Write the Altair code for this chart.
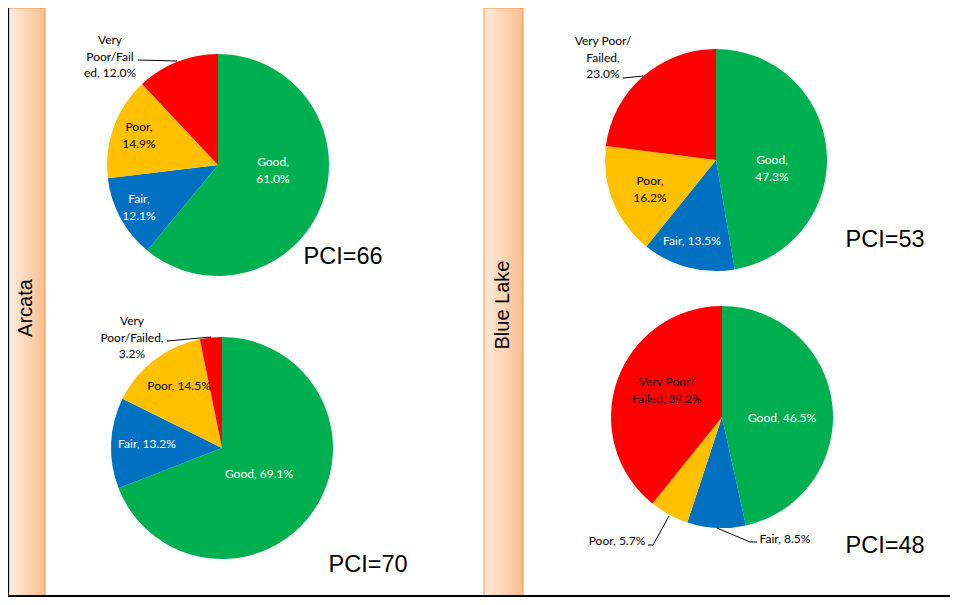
import altair as alt
import pandas as pd

# ---------------- data ----------------
CATEGORIES = ["Good", "Fair", "Poor", "Very Poor/Failed"]
COLORS = ["#00B050", "#0070C0", "#FFC000", "#FF0000"]
ARCATA_TOP = [61.0, 12.1, 14.9, 12.0]
ARCATA_BOTTOM = [69.1, 13.2, 14.5, 3.2]
BLUE_LAKE_TOP = [47.3, 13.5, 16.2, 23.0]
BLUE_LAKE_BOTTOM = [46.5, 8.5, 5.7, 39.2]
PCI = [66, 70, 53, 48]
CITIES = ["Arcata", "Blue Lake"]

# ---------------- layout ----------------
W, H = 942, 589
R = 111
FONT_LBL = "Lato"
FONT_BIG = "Liberation Sans"

# label line-wrapping templates (per pie, per category)
WRAPS = [
    ["Good,|{v}", "Fair,|{v}", "Poor,|{v}", "Very|Poor/Fail|ed, {v}"],
    ["Good, {v}", "Fair, {v}", "Poor, {v}", "Very|Poor/Failed,|{v}"],
    ["Good,|{v}", "Fair, {v}", "Poor,|{v}", "Very Poor/|Failed,|{v}"],
    ["Good, {v}", "Fair, {v}", "Poor, {v}", "Very Poor/|Failed, {v}"],
]

# label positions = centre of first text line
PIES = [
    dict(values=ARCATA_TOP, center=(210, 157), pci_pos=(335, 249),
         labels=[(265, 154), (131, 191), (131, 119), (102, 32)],
         lcolors=["white", "white", "black", "black"]),
    dict(values=ARCATA_BOTTOM, center=(214, 440), pci_pos=(360, 557),
         labels=[(251, 466), (139, 436), (171, 378), (124, 313)],
         lcolors=["white", "white", "black", "black"]),
    dict(values=BLUE_LAKE_TOP, center=(708, 152), pci_pos=(877, 232),
         labels=[(764, 152), (684, 233), (642, 173), (595, 33)],
         lcolors=["white", "white", "black", "black"]),
    dict(values=BLUE_LAKE_BOTTOM, center=(714, 409), pci_pos=(877, 538),
         labels=[(774, 410), (777, 531), (609, 533), (659, 374)],
         lcolors=["white", "black", "black", "black"]),
]

LEADERS = [
    (130, 52, 169, 53),
    (159, 333, 203, 329),
    (615, 70, 635, 68),
    (640, 537, 645, 537), (645, 537, 661, 508),
    (709, 520, 742, 534), (742, 534, 749, 534),
]

BARS = [(1, 37, 18, 300), (476, 515, 495, 297)]  # x, x2, text x, text y

color_scale = alt.Scale(domain=CATEGORIES, range=COLORS)
layers = []

# side bars with gradient
grad = alt.Gradient(
    gradient="linear",
    stops=[alt.GradientStop(color="#FFEBDD", offset=0),
           alt.GradientStop(color="#FBBE8C", offset=1)],
    x1=0, x2=1, y1=0, y2=0,
)
city_df = pd.DataFrame({"city": CITIES})
for city, (bx, bx2, tx, ty) in zip(CITIES, BARS):
    base = alt.Chart(city_df).transform_filter(alt.datum.city == city)
    layers.append(
        base.mark_rect(color=grad, stroke="#F79646", strokeWidth=1).encode(
            x=alt.value(bx), x2=alt.value(bx2), y=alt.value(0), y2=alt.value(H)
        )
    )
    layers.append(
        base.mark_text(angle=270, fontSize=20, font=FONT_BIG, color="black",
                       baseline="middle", align="center").encode(
            text="city:N", x=alt.value(tx), y=alt.value(ty)
        )
    )

# pies
for i, pie in enumerate(PIES):
    rows = []
    for k, (cat, val) in enumerate(zip(CATEGORIES, pie["values"])):
        lines = WRAPS[i][k].format(v=f"{val:.1f}%").split("|")
        rows.append(dict(cat=cat, value=val, idx=k, lines=lines, pci=f"PCI={PCI[i]}"))
    df = pd.DataFrame(rows)
    cx, cy = pie["center"]
    arc = alt.Chart(df).mark_arc(radius=R).encode(
        theta=alt.Theta("value:Q", stack=True),
        color=alt.Color("cat:N", scale=color_scale, legend=None),
        order=alt.Order("idx:Q", sort="ascending"),
        x=alt.value(cx), y=alt.value(cy),
    )
    layers.append(arc)
    for k, cat in enumerate(CATEGORIES):
        lx, ly = pie["labels"][k]
        layers.append(
            alt.Chart(df).transform_filter(alt.datum.cat == cat)
            .mark_text(font=FONT_LBL, fontSize=12, lineHeight=16.5,
                       color=pie["lcolors"][k], align="center", baseline="middle")
            .encode(text="lines:N", x=alt.value(lx), y=alt.value(ly))
        )
    px, py = pie["pci_pos"]
    layers.append(
        alt.Chart(df).transform_filter(alt.datum.idx == 0)
        .mark_text(font=FONT_BIG, fontSize=23.5, color="black",
                   align="center", baseline="middle")
        .encode(text="pci:N", x=alt.value(px), y=alt.value(py))
    )

# leader lines
for (x1, y1, x2, y2) in LEADERS:
    layers.append(
        alt.Chart(city_df).transform_filter(alt.datum.city == CITIES[0])
        .mark_rule(color="black", strokeWidth=1)
        .encode(x=alt.value(x1), y=alt.value(y1), x2=alt.value(x2), y2=alt.value(y2))
    )

# frame lines (left & bottom)
frame_df = pd.DataFrame({"a": [0]})
layers.append(
    alt.Chart(frame_df).mark_rule(color="black", strokeWidth=2).encode(
        x=alt.value(0), y=alt.value(0), y2=alt.value(H))
)
layers.append(
    alt.Chart(frame_df).mark_rule(color="black", strokeWidth=2).encode(
        x=alt.value(0), x2=alt.value(W), y=alt.value(H - 1))
)

chart = (
    alt.layer(*layers)
    .resolve_scale(theta="independent")
    .properties(width=W, height=H, padding=0,
                autosize=alt.AutoSizeParams(type="none"))
    .configure_view(stroke=None)
)

chart.save("out.html", embed_options={"renderer": "svg", "actions": False})
